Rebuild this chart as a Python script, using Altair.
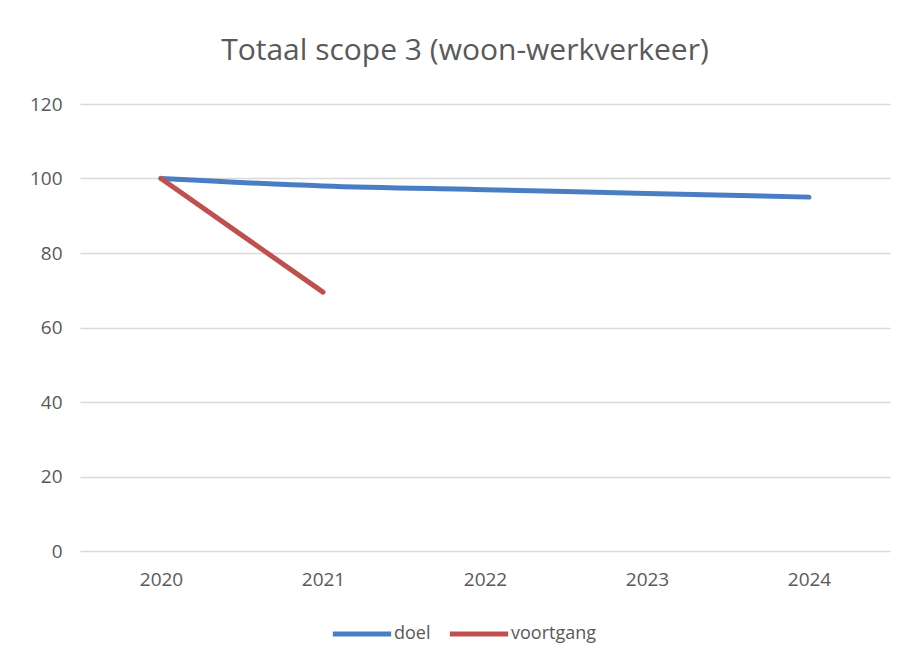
import altair as alt
import pandas as pd

years = ["2020", "2021", "2022", "2023", "2024"]
doel = [100, 98, 97, 96, 95]
voortgang_years = ["2020", "2021"]
voortgang = [100, 69.5]

rows = [{"year": y, "value": v, "series": "doel"} for y, v in zip(years, doel)]
rows += [{"year": y, "value": v, "series": "voortgang"} for y, v in zip(voortgang_years, voortgang)]
df = pd.DataFrame(rows)

FONT = "Open Sans"
GREY = "#595959"

chart = (
    alt.Chart(df)
    .mark_line(strokeWidth=5, strokeCap="round", interpolate="monotone")
    .encode(
        x=alt.X(
            "year:O",
            sort=years,
            scale=alt.Scale(type="point", padding=0.5, domain=years),
            axis=alt.Axis(
                title=None, labelAngle=0, ticks=False, domain=False,
                labelFont=FONT, labelFontSize=19, labelColor=GREY, labelPadding=19,
                grid=False,
            ),
        ),
        y=alt.Y(
            "value:Q",
            scale=alt.Scale(domain=[0, 120], nice=False),
            axis=alt.Axis(
                title=None, values=[0, 20, 40, 60, 80, 100, 120], ticks=False, domain=False,
                labelFont=FONT, labelFontSize=19, labelColor=GREY, labelPadding=18,
                gridColor="#d9d9d9", gridWidth=1.3,
            ),
        ),
        color=alt.Color(
            "series:N",
            scale=alt.Scale(domain=["doel", "voortgang"], range=["#4A7EC4", "#C0504D"]),
            legend=alt.Legend(
                title=None, orient="none", legendX=250, legendY=498, direction="horizontal",
                symbolType="stroke", symbolSize=3400, symbolStrokeWidth=5,
                labelFont=FONT, labelFontSize=18, labelColor=GREY, labelOffset=0,
                columnPadding=8,
            ),
        ),
        detail="series:N",
    )
    .properties(
        width=810,
        height=447,
        title=alt.TitleParams(
            "Totaal scope 3 (woon-werkverkeer)",
            font=FONT, fontSize=30, fontWeight="normal", color=GREY,
            anchor="middle", dx=-20, offset=5, baseline="alphabetic",
        ),
        autosize=alt.AutoSizeParams(type="none"),
        padding={"left": 72, "top": 96, "right": 12, "bottom": 100},
        background="white",
    )
    .configure_view(stroke=None)
)

chart.save("out.html", embed_options={"renderer": "svg", "actions": False})
